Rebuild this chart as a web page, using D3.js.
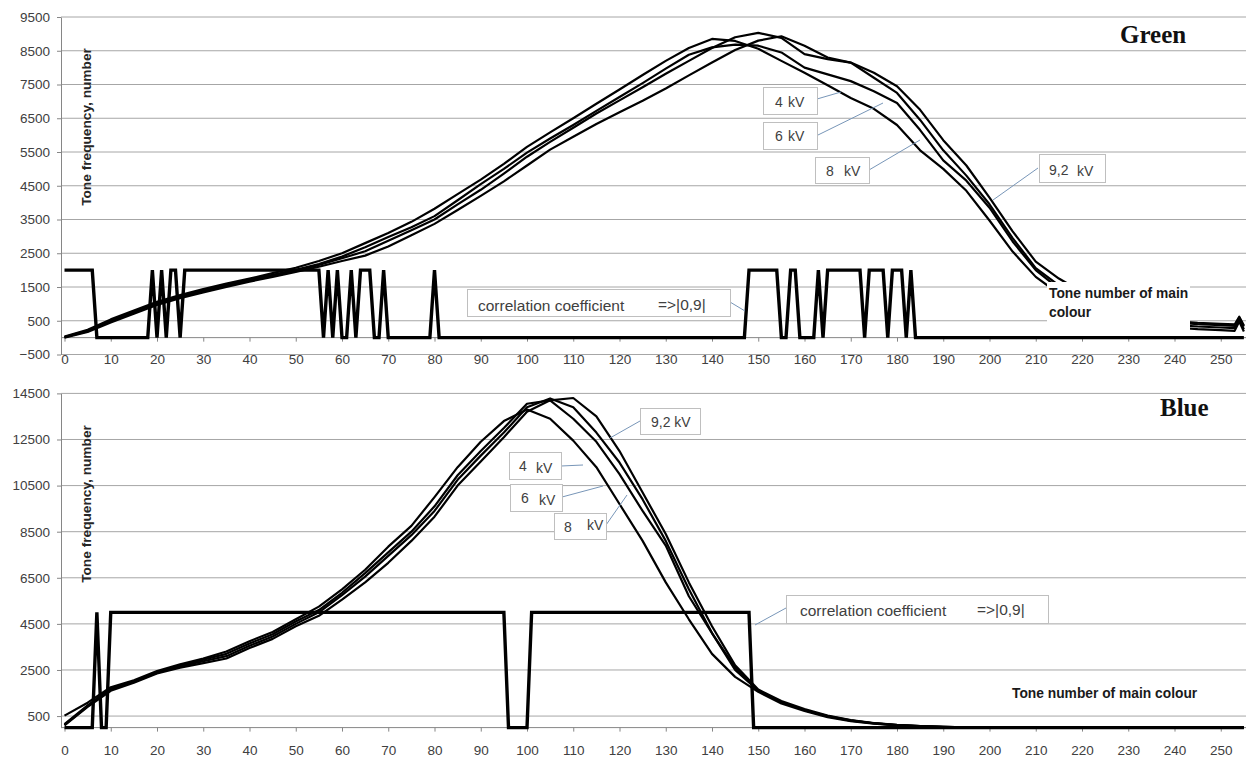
<!DOCTYPE html>
<html>
<head>
<meta charset="utf-8">
<title>Tone frequency of main colour</title>
<script src="https://cdn.jsdelivr.net/npm/d3@7/dist/d3.min.js"></script>
<style>
  body { margin: 0; background: #fff; }
  svg { display: block; font-family: "Liberation Sans", Arial, sans-serif; }
  .grid line { stroke: #a6a6a6; stroke-width: 1; }
  .axis path, .axis line { stroke: #868686; }
  .axis text { fill: #404040; font-size: 13.5px; font-family: "Liberation Sans", Arial, sans-serif; }
  .curve { fill: none; stroke: #000; stroke-width: 2.2; stroke-linejoin: round; }
  .corr { fill: none; stroke: #000; stroke-width: 3.4; stroke-linejoin: miter; }
  .callout rect { fill: #fff; stroke: #bfbfbf; stroke-width: 1; }
  .callout text { fill: #404040; }
  .leader { stroke: #7896b8; stroke-width: 1; }
</style>
</head>
<body>
<svg width="1246" height="758"></svg>
<script>
// tone numbers (categories) of the two charts
const greenTones = d3.range(0, 251, 5).concat([253, 254, 255]);
const blueTones = d3.range(0, 256, 5);
const toneTicks = d3.range(0, 251, 10);

// Green: tone frequency for the four voltages
const green4kV = [30,230,540,800,1060,1260,1440,1600,1750,1910,
  2070,2270,2500,2800,3100,3430,3820,4250,4680,5150,
  5650,6080,6500,6930,7350,7780,8200,8580,8850,8790,
  8560,8200,7850,7480,7100,6780,6300,5550,5000,4350,
  3470,2550,1800,1300,950,680,500,380,300,250,
  220, 200,480,180];
const green6kV = [20,210,510,770,1030,1230,1400,1560,1720,1860,
  2010,2180,2400,2680,2980,3270,3600,4070,4550,5000,
  5480,5900,6300,6720,7130,7540,7970,8380,8600,8680,
  8650,8450,8000,7800,7600,7300,6950,6150,5250,4650,
  3850,2850,2000,1450,1080,760,580,470,380,330,
  300, 280,520,250];
const green8kV = [10,190,480,740,1000,1200,1370,1530,1690,1830,
  1990,2150,2350,2560,2870,3180,3500,3950,4380,4860,
  5360,5800,6220,6640,7030,7420,7820,8200,8580,8900,
  9030,8880,8400,8250,8150,7700,7250,6450,5550,4800,
  3950,2950,2060,1550,1150,820,650,540,450,400,
  370, 350,600,330];
const green92kV = [0,170,450,710,970,1170,1340,1500,1660,1800,
  1950,2100,2270,2430,2700,3030,3370,3780,4200,4630,
  5100,5570,5950,6330,6680,7020,7380,7770,8150,8520,
  8800,8930,8650,8300,8150,7850,7450,6750,5850,5100,
  4150,3150,2250,1750,1350,880,700,580,490,440,
  410, 390,620,360];

// Blue: tone frequency for the four voltages
const blue4kV = [520,1080,1750,2050,2450,2750,3000,3300,3750,4150,
  4700,5250,6000,6850,7850,8750,10000,11300,12400,13300,
  13800,13400,12450,11300,9700,8100,6300,4700,3200,2200,
  1550,1050,720,450,280,170,100,50,25,15,
  10,10,8,8,6,6,5,5,5,5,
  5,5];
const blue6kV = [150,960,1700,2000,2400,2700,2950,3200,3650,4050,
  4600,5100,5850,6700,7600,8500,9600,10950,12000,13000,
  14050,14200,13400,12400,11000,9400,7900,5700,4100,2500,
  1600,1100,760,480,300,180,110,60,30,15,
  10,10,8,8,6,6,5,5,5,5,
  5,5];
const blue8kV = [120,930,1650,1980,2380,2650,2880,3100,3550,3950,
  4500,5000,5750,6550,7450,8350,9400,10750,11800,12800,
  13900,14280,13900,12800,11500,9900,8100,6000,4100,2600,
  1600,1100,760,500,310,190,110,60,30,15,
  10,10,8,8,6,6,5,5,5,5,
  5,5];
const blue92kV = [100,900,1600,1950,2350,2600,2800,3000,3450,3850,
  4400,4850,5550,6300,7150,8100,9150,10500,11550,12600,
  13700,14200,14300,13500,12000,10200,8400,6300,4400,2700,
  1650,1150,800,520,330,200,120,70,35,15,
  10,10,8,8,6,6,5,5,5,5,
  5,5];

// correlation coefficient => |0,9| : tone ranges where it holds
const greenCorrOn = [[0,6],[19,19],[21,21],[23,24],[26,55],[57,57],[59,59],[62,62],
  [64,66],[69,69],[80,80],[148,154],[157,158],[163,163],[165,172],[174,177],[179,181],[183,183]];
const blueCorrOn = [[7,7],[10,95],[101,148]];
const greenCorrLevel = 2000;
const blueCorrLevel = 5000;

const greenTicks = d3.range(-500, 9501, 1000);
const blueTicks = d3.range(500, 14501, 2000);

const svg = d3.select('svg');
const W = 1246;
const axisX = 61;

const x = d3.scaleLinear().domain([0, 255]).range([64.5, 64.5 + 255 * 4.625]);

const drawPanel = p => {
  const y = p.y;
  const g = svg.append('g');

  g.append('g').attr('class', 'grid')
    .selectAll('line').data(p.ticks).enter().append('line')
      .attr('x1', axisX).attr('x2', W)
      .attr('y1', d => y(d)).attr('y2', d => y(d));

  const yAxis = d3.axisLeft(y).tickValues(p.ticks).tickFormat(d3.format('d'))
    .tickSize(4).tickSizeOuter(0).tickPadding(7);
  g.append('g').attr('class', 'axis')
    .attr('transform', `translate(${axisX},0)`)
    .call(yAxis);

  // category axis crossing at 0
  g.append('line')
    .attr('x1', axisX).attr('x2', W)
    .attr('y1', y(0)).attr('y2', y(0))
    .attr('stroke', '#868686');
  const xTicks = g.append('g').attr('class', 'axis')
    .attr('transform', `translate(0,${y(0)})`)
    .call(d3.axisBottom(x).tickValues(toneTicks).tickSize(4).tickSizeOuter(0).tickFormat(''));
  xTicks.select('.domain').remove();

  const xLabels = g.append('g').attr('class', 'axis')
    .attr('transform', `translate(0,${p.labelTop})`)
    .call(d3.axisBottom(x).tickValues(toneTicks).tickSize(0).tickPadding(0));
  xLabels.select('.domain').remove();

  const line = d3.line()
    .x((d, i) => x(p.tones[i]))
    .y(d => y(d));
  g.selectAll('.curve').data(p.series).enter().append('path')
    .attr('class', 'curve')
    .attr('d', line);

  const corr = d3.range(256).map(t => p.corrOn.some(([a, b]) => t >= a && t <= b) ? p.corrLevel : 0);
  g.append('path')
    .attr('class', 'corr')
    .attr('d', d3.line().x((d, i) => x(i)).y(d => y(d))(corr));

  g.append('text')
    .attr('transform', `translate(91,${p.titleMid}) rotate(-90)`)
    .attr('text-anchor', 'middle')
    .attr('font-size', 13.7)
    .attr('font-weight', 'bold')
    .attr('fill', '#262626')
    .text('Tone frequency, number');

  g.append('text')
    .attr('x', p.name.x).attr('y', p.name.y)
    .attr('font-family', '"Liberation Serif", "Times New Roman", serif')
    .attr('font-weight', 'bold')
    .attr('font-size', 25)
    .attr('fill', '#111')
    .text(p.name.text);

  // axis title box (white background)
  const tb = g.append('g');
  tb.append('rect')
    .attr('x', p.toneBox[0]).attr('y', p.toneBox[1])
    .attr('width', p.toneBox[2]).attr('height', p.toneBox[3])
    .attr('fill', '#fff');
  p.toneLines.forEach(([txt, tx, ty]) => {
    tb.append('text')
      .attr('x', tx).attr('y', ty)
      .attr('font-weight', 'bold')
      .attr('font-size', 13.8)
      .attr('fill', '#1a1a1a')
      .text(txt);
  });

  p.callouts.forEach(c => {
    g.append('line').attr('class', 'leader')
      .attr('x1', c.lead[0]).attr('y1', c.lead[1])
      .attr('x2', c.lead[2]).attr('y2', c.lead[3]);
    const cg = g.append('g').attr('class', 'callout');
    cg.append('rect')
      .attr('x', c.box[0] + 0.5).attr('y', c.box[1] + 0.5)
      .attr('width', c.box[2]).attr('height', c.box[3]);
    c.parts.forEach(([txt, tx, ty]) => {
      cg.append('text')
        .attr('x', tx).attr('y', ty)
        .attr('font-size', c.size)
        .text(txt);
    });
  });
};

drawPanel({
  tones: greenTones,
  series: [green4kV, green6kV, green8kV, green92kV],
  corrOn: greenCorrOn, corrLevel: greenCorrLevel,
  ticks: greenTicks,
  y: d3.scaleLinear().domain([-500, 9500]).range([354.5, 17]),
  labelTop: 354.7,
  titleMid: 127,
  name: { text: 'Green', x: 1120, y: 43 },
  toneBox: [1047, 282, 143, 49],
  toneLines: [['Tone number of main', 1049, 298], ['colour', 1049, 317]],
  callouts: [
    { box: [763, 87, 54, 27], lead: [817, 99, 841, 92], size: 14, parts: [['4', 775, 107], ['kV', 788, 107]] },
    { box: [763, 122, 54, 27], lead: [818, 135, 883, 103], size: 14, parts: [['6', 775, 141], ['kV', 788, 141]] },
    { box: [815, 157, 54, 26], lead: [869, 170, 920, 140], size: 14, parts: [['8', 826, 176], ['kV', 844, 176]] },
    { box: [1039, 154, 66, 28], lead: [1038, 168, 993, 200], size: 14, parts: [['9,2', 1049, 175], ['kV', 1077, 176]] },
    { box: [467, 289, 263, 27], lead: [730, 302, 745, 311], size: 15.5,
      parts: [['correlation coefficient', 478, 311], ['=>|0,9|', 658, 310]] }
  ]
});

drawPanel({
  tones: blueTones,
  series: [blue4kV, blue6kV, blue8kV, blue92kV],
  corrOn: blueCorrOn, corrLevel: blueCorrLevel,
  ticks: blueTicks,
  y: d3.scaleLinear().domain([0, 14500]).range([727.6, 393.4]),
  labelTop: 745.4,
  titleMid: 504,
  name: { text: 'Blue', x: 1160, y: 416 },
  toneBox: [1008, 682, 194, 22],
  toneLines: [['Tone number of main colour', 1012, 698]],
  callouts: [
    { box: [640, 408, 60, 26], lead: [640, 421, 610, 438], size: 14, parts: [['9,2 kV', 651, 427]] },
    { box: [509, 452, 52, 27], lead: [561, 466, 583, 465], size: 14, parts: [['4', 519, 471], ['kV', 536, 473]] },
    { box: [510, 484, 52, 27], lead: [562, 497, 603, 486], size: 14, parts: [['6', 521, 503], ['kV', 539, 505]] },
    { box: [554, 513, 52, 26], lead: [606, 525, 627, 495], size: 14, parts: [['8', 564, 532], ['kV', 587, 530]] },
    { box: [786, 595, 262, 28], lead: [786, 608, 755, 625], size: 15.5,
      parts: [['correlation coefficient', 800, 616], ['=>|0,9|', 977, 615]] }
  ]
});
</script>
</body>
</html>
